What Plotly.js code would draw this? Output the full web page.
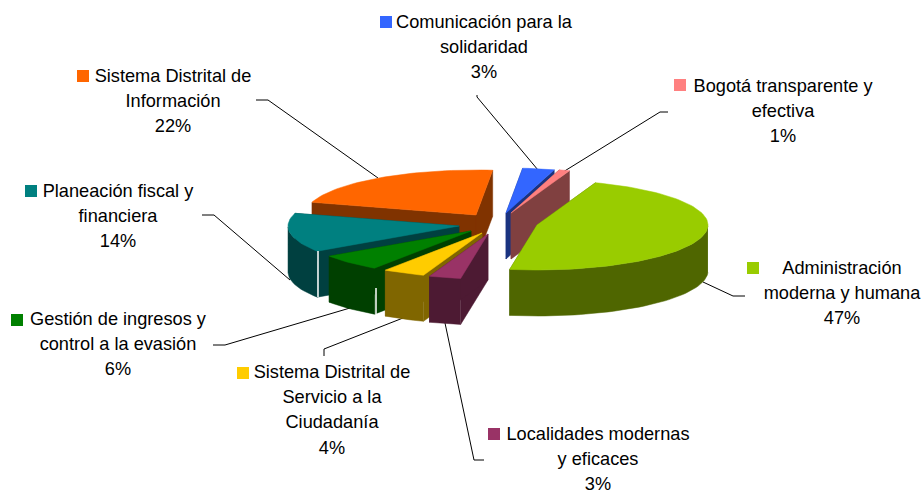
<!DOCTYPE html>
<html><head><meta charset="utf-8">
<script src="https://cdn.plot.ly/plotly-3.0.1.min.js"></script>
<style>html,body{margin:0;padding:0;background:#fff}#c{width:922px;height:493px}</style>
</head><body><div id="c"></div>
<script>
// DATA (clockwise from the start angle)
const categories = ["Comunicación para la solidaridad","Bogotá transparente y efectiva","Administración moderna y humana","Localidades modernas y eficaces","Sistema Distrital de Servicio a la Ciudadanía","Gestión de ingresos y control a la evasión","Planeación fiscal y financiera","Sistema Distrital de Información"];
const values = [3,1,47,3,4,6,14,22];
const labelLines = [
 ["Comunicación para la","solidaridad"],
 ["Bogotá transparente y","efectiva"],
 ["Administración","moderna y humana"],
 ["Localidades modernas","y eficaces"],
 ["Sistema Distrital de","Servicio a la","Ciudadanía"],
 ["Gestión de ingresos y","control a la evasión"],
 ["Planeación fiscal y","financiera"],
 ["Sistema Distrital de","Información"]
];
// STYLE / LAYOUT
const topColors  = ["#3366FF","#FF8080","#99CC00","#993366","#FFCC00","#008000","#008080","#FF6600"];
const wallColors = ["#1A3380","#804040","#4F6600","#4D1A33","#806600","#004000","#004040","#803300"];
const apexX = [506,511,537,488,482,471,459,476];
const apexY = [213,213,225,234,233,231,226,215];
const labelX = [484,783,842,598,332,118,118,173];
const labelY = [23,87,269,435,373,320,192,77];
const keyX = [386,680,753,494,243,17,31,83];
const keyY = [22,85,268,434,373,320,191,76];
const leaders = [
 [[477,477,538],[95,97,170]],
 [[668,660,563],[112,112,172]],
 [[745,733,703],[296,296,282]],
 [[484,474,445],[460,460,323]],
 [[324,324,403],[356,349,318]],
 [[213,225,350],[345,345,308]],
 [[202,214,290],[215,215,280]],
 [[256,268,378],[100,100,178]]
];
const gaps = [ [[318,318],[251,297]], [[376,376],[288,314]] ];
const startDeg = 84.4, rx = 171, ry = 45, depth = 46, lineStep = 25.4;
const total = values.reduce((a,b)=>a+b,0);

function poly(xs, ys, color){
  return {type:'scatter',mode:'lines',x:xs,y:ys,fill:'toself',fillcolor:color,
          line:{color:color,width:0.5},hoverinfo:'skip',showlegend:false};
}
function rim(i,a0,a1){
  const xs=[],ys=[],n=Math.max(2,Math.ceil(Math.abs(a1-a0)/2));
  for(let k=0;k<=n;k++){
    const t=(a0+(a1-a0)*k/n)*Math.PI/180;
    xs.push(apexX[i]+rx*Math.cos(t)); ys.push(apexY[i]-ry*Math.sin(t));
  }
  return [xs,ys];
}
const traces=[];
leaders.forEach(l=>traces.push({type:'scatter',mode:'lines',x:l[0],y:l[1],
  line:{color:'#000',width:1},hoverinfo:'skip',showlegend:false}));

// slices: back to front, sweeping clockwise; the big slice is painted after the two small ones
let a=startDeg; const spans=values.map(v=>{const s=[a,a-v/total*360];a=s[1];return s;});
const order=[7,0,1,2,6,5,4,3];
order.forEach(i=>{
  const [a0,a1]=spans[i];
  const [rxs,rys]=rim(i,a0,a1);
  const ax=apexX[i],ay=apexY[i];
  // side walls
  [[rxs[0],rys[0]],[rxs[rxs.length-1],rys[rys.length-1]]].forEach(p=>{
    traces.push(poly([ax,p[0],p[0],ax,ax],[ay,p[1],p[1]+depth,ay+depth,ay],wallColors[i]));
  });
  // outer wall (front half of the rim only)
  const fx=[],fy=[];
  rxs.forEach((x,k)=>{ if(rys[k]>=ay-0.01){fx.push(x);fy.push(rys[k]);} });
  if(fx.length>1){
    traces.push(poly(fx.concat(fx.slice().reverse()),fy.concat(fy.slice().reverse().map(y=>y+depth)),wallColors[i]));
  }
  // top face
  traces.push(poly([ax].concat(rxs,[ax]),[ay].concat(rys,[ay]),topColors[i]));
});

// thin light seams between the outer and the side walls
gaps.forEach(g=>traces.push({type:'scatter',mode:'lines',x:g[0],y:g[1],
  line:{color:'#fff',width:1.5},hoverinfo:'skip',showlegend:false}));

// legend keys
traces.push({type:'scatter',mode:'markers',x:keyX,y:keyY,
  marker:{symbol:'square',size:12,color:topColors,line:{width:0}},hoverinfo:'skip',showlegend:false});

// labels
const tx=[],ty=[],tt=[];
categories.forEach((c,i)=>{
  const lines=labelLines[i].concat([values[i]+"%"]);
  lines.forEach((s,k)=>{tx.push(labelX[i]);ty.push(labelY[i]+k*lineStep);tt.push(s);});
});
traces.push({type:'scatter',mode:'text',x:tx,y:ty,text:tt,textposition:'middle center',
  textfont:{family:'"Liberation Sans",Arial,sans-serif',size:18.2,color:'#000'},hoverinfo:'skip',showlegend:false});

Plotly.newPlot('c',traces,{
  width:922,height:493,margin:{l:0,r:0,t:0,b:0},
  paper_bgcolor:'#fff',plot_bgcolor:'#fff',showlegend:false,hovermode:false,
  xaxis:{range:[0,922],visible:false,fixedrange:true},
  yaxis:{range:[493,0],visible:false,fixedrange:true}
},{displayModeBar:false,staticPlot:true});
</script></body></html>
